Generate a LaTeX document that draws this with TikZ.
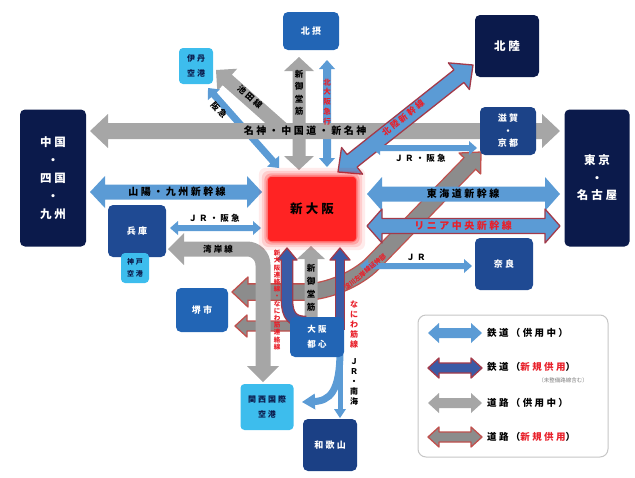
\documentclass[tikz,border=0pt]{standalone}
\usepackage{fontspec}
\setmainfont{Noto Sans CJK JP}
\newfontfamily\wj{Noto Sans CJK JP}[LetterSpace=25]
\usetikzlibrary{calc,backgrounds}
\definecolor{navy}{HTML}{0B1A4B}
\definecolor{midblue}{HTML}{1F4A93}
\definecolor{brblue}{HTML}{2265B5}
\definecolor{cyanbox}{HTML}{3DBDED}
\definecolor{railc}{HTML}{5B9BD5}
\definecolor{newrail}{HTML}{3A5BA6}
\definecolor{newedge}{HTML}{A33A4A}
\definecolor{roadc}{HTML}{A6A6A6}
\definecolor{newroad}{HTML}{8C8C8C}
\definecolor{roadedge}{HTML}{C0504D}
\definecolor{txtred}{HTML}{E8202A}
\definecolor{shinred}{HTML}{FF2323}
% double-headed block arrow: style, A, B, shaft half width, head half width, head length
\newcommand\DArrow[6]{%
 \path[#1] (#2) -- ($(#2)!#6!(#3)!#5!90:(#3)$) -- ($(#2)!#6!(#3)!#4!90:(#3)$)
 -- ($(#3)!#6!(#2)!#4!-90:(#2)$) -- ($(#3)!#6!(#2)!#5!-90:(#2)$) -- (#3)
 -- ($(#3)!#6!(#2)!#5!90:(#2)$) -- ($(#3)!#6!(#2)!#4!90:(#2)$)
 -- ($(#2)!#6!(#3)!#4!-90:(#3)$) -- ($(#2)!#6!(#3)!#5!-90:(#3)$) -- cycle;}
% single-headed block arrow: style, tail, tip, shaft half width, head half width, head length
\newcommand\SArrow[6]{%
 \path[#1] ($(#2)!#4!90:(#3)$) -- ($(#3)!#6!(#2)!#4!-90:(#2)$) -- ($(#3)!#6!(#2)!#5!-90:(#2)$)
 -- (#3) -- ($(#3)!#6!(#2)!#5!90:(#2)$) -- ($(#3)!#6!(#2)!#4!90:(#2)$)
 -- ($(#2)!#4!-90:(#3)$) -- cycle;}
% head only: style, tip, point behind, head half width, head length
\newcommand\HeadTip[5]{%
 \path[#1] (#2) -- ($(#2)!#5!(#3)!#4!90:(#3)$) -- ($(#2)!#5!(#3)!#4!-90:(#3)$) -- cycle;}
\tikzset{
 place/.style={rounded corners=5pt, text=white, align=center, inner sep=0pt,
   font=\wj\bfseries\fontsize{9}{12.5}\selectfont},
 bigplace/.style={place, fill=navy, font=\wj\bfseries\fontsize{11.5}{18}\selectfont},
 airport/.style={place, fill=cyanbox, text=navy, rounded corners=4pt,
   font=\wj\bfseries\fontsize{8}{15}\selectfont},
 roadA/.style={fill=roadc},
 railA/.style={fill=railc},
 newrailA/.style={fill=railc, draw=newedge, line width=1.3pt, line join=round},
 newrailB/.style={fill=newrail, draw=newedge, line width=1.3pt, line join=round},
 newroadA/.style={fill=newroad, draw=roadedge, line width=1.3pt, line join=round},
 lbl/.style={font=\wj\bfseries\fontsize{10}{12}\selectfont, text=black, inner sep=0pt},
 slbl/.style={font=\wj\bfseries\fontsize{8.5}{10}\selectfont, text=black, inner sep=0pt},
 vlbl/.style={font=\bfseries\fontsize{8}{10}\selectfont, align=center, inner sep=0pt},
 legtxt/.style={font=\wj\bfseries\fontsize{9.5}{11}\selectfont, anchor=west, inner sep=0pt},
}
\begin{document}
\begin{tikzpicture}[x=1pt,y=-1pt]
\useasboundingbox (0,0) rectangle (635,477);
% ---------- places ----------
\node[bigplace, minimum width=64pt, minimum height=62pt] (hokuriku) at (507,46) {北陸};
\node[bigplace, minimum width=66pt, minimum height=137pt] (chugoku) at (53,178) {中国\\・\\四国\\・\\九州};
\node[bigplace, minimum width=65pt, minimum height=137pt, font=\wj\bfseries\fontsize{11.5}{17.5}\selectfont] (tokyo) at (597,178) {東京\\・\\名古屋};
\node[place, fill=brblue, minimum width=56pt, minimum height=38pt] (hokusetsu) at (311,31) {北摂};
\node[airport, minimum width=34pt, minimum height=36pt] (itami) at (196,66) {伊丹\\空港};
\node[place, fill=midblue!85!navy, minimum width=56pt, minimum height=48pt] (shiga) at (508,131) {滋賀\\・\\京都};
\node[place, fill=midblue, minimum width=58pt, minimum height=52pt] (hyogo) at (137,231) {兵庫};
\node[airport, minimum width=28pt, minimum height=30pt, font=\wj\bfseries\fontsize{7}{12}\selectfont] (kobe) at (135,268) {神戸\\空港};
\node[place, fill=midblue, minimum width=58pt, minimum height=52pt] (nara) at (504,264) {奈良};
\node[place, fill=brblue, minimum width=52pt, minimum height=44pt] (sakai) at (202,310) {堺市};
\node[place, fill=brblue, minimum width=54pt, minimum height=40pt, font=\wj\bfseries\fontsize{8.5}{15}\selectfont] (toshin) at (317,337) {大阪\\都心};
\node[airport, minimum width=53pt, minimum height=46pt] (kix) at (267,407) {関西国際\\空港};
\node[place, fill=midblue!80!navy, minimum width=54pt, minimum height=52pt] (wakayama) at (330,445) {和歌山};
\node[rounded corners=3pt, fill=shinred, minimum width=88pt, minimum height=64pt, inner sep=0pt,
  font=\wj\bfseries\fontsize{12.5}{14}\selectfont, text=black] (shin) at (312,209) {新大阪};
% ---------- connector end points ----------
\coordinate (mA) at (90,131);   \coordinate (mB) at (560,131);
\coordinate (sA) at (90,192);   \coordinate (sB) at (262,192);
\coordinate (jlA) at (170,228); \coordinate (jlB) at (261,228);
\coordinate (wW) at (168,249);  \coordinate (wK) at (263,249); \coordinate (wS) at (263,382);
\coordinate (tA) at (367,194);  \coordinate (tB) at (560,194);
\coordinate (lA) at (367,226);  \coordinate (lB) at (560,226);
\coordinate (nA) at (360,266);  \coordinate (nB) at (472,266);
\coordinate (krA) at (372,148); \coordinate (krB) at (477,148);
\coordinate (hA) at (338,172);  \coordinate (hB) at (473,65);
\coordinate (gA) at (299,57);   \coordinate (gB) at (299,170);
\coordinate (bA) at (327,60);   \coordinate (bB) at (327,167);
\coordinate (aA) at (208,88);   \coordinate (aB) at (279,168);
\coordinate (iT) at (286,132);  \coordinate (iH) at (216,70);
\coordinate (gsH) at (311,246); \coordinate (gsT) at (311,330);
\coordinate (rlH) at (287,248); \coordinate (rlM) at (287,300); \coordinate (rlE) at (306,322);
\coordinate (rrH) at (340,248); \coordinate (rrM) at (340,330);
\coordinate (wkH) at (340,418); \coordinate (wkT) at (340,345);
\coordinate (kxH) at (302,402); \coordinate (kxD) at (330,401); \coordinate (kxS) at (340,350);
\coordinate (yW) at (232,292);  \coordinate (yK) at (345,292); \coordinate (yE) at (481,152);
\coordinate (y2H) at (235,326); \coordinate (y2T) at (292,326);
% ---------- connectors (behind the places) ----------
\begin{scope}[on background layer]
 % new road: Yodogawa left bank extension
 \draw[roadedge, line width=17.6pt, rounded corners=40pt] ($(yW)!16pt!(yK)$) -- (yK) -- ($(yE)!16pt!(yK)$);
 \HeadTip{newroadA}{yW}{yK}{15pt}{16pt}
 \HeadTip{newroadA}{yE}{yK}{15pt}{16pt}
 \draw[newroad, line width=15pt, rounded corners=40pt] ($(yW)!12pt!(yK)$) -- (yK) -- ($(yE)!12pt!(yK)$);
 % small new road to the west
 \SArrow{newroadA}{y2T}{y2H}{5pt}{11pt}{12pt}
 % Wangan line
 \draw[roadc, line width=15pt, rounded corners=16pt] ($(wW)!14pt!(wK)$) -- (wK) -- ($(wS)!14pt!(wK)$);
 \HeadTip{roadA}{wW}{wK}{16pt}{16pt}
 \HeadTip{roadA}{wS}{wK}{16pt}{16pt}
 % Shin-Midosuji south
 \SArrow{roadA}{gsT}{gsH}{6.5pt}{14pt}{13pt}
 % new rail (left, south)
 \draw[newedge, line width=12.6pt] ($(rlH)!12pt!(rlM)$) -- (rlM) .. controls (287,316) and (293,322) .. (rlE);
 \HeadTip{newrailB}{rlH}{rlM}{10pt}{12pt}
 \draw[newrail, line width=10pt] ($(rlH)!8pt!(rlM)$) -- (rlM) .. controls (287,316) and (293,322) .. (rlE);
 % new rail (right, south) - Naniwasuji line
 \draw[newedge, line width=10.6pt] ($(rrH)!12pt!(rrM)$) -- (rrM);
 \HeadTip{newrailB}{rrH}{rrM}{10pt}{12pt}
 \draw[newrail, line width=8pt] ($(rrH)!8pt!(rrM)$) -- (rrM);
 % JR / Nankai to Wakayama and KIX
 \draw[railc, line width=5pt] (wkT) -- ($(wkH)!8pt!(wkT)$);
 \HeadTip{railA}{wkH}{wkT}{6pt}{9pt}
 \draw[railc, line width=7pt] (kxS) .. controls (340,392) and (330,401) .. ($(kxH)!11pt!(kxD)$);
 \HeadTip{railA}{kxH}{kxD}{8pt}{13pt}
 % north side
 \SArrow{roadA}{iT}{iH}{7pt}{15pt}{15pt}
 \DArrow{railA}{aA}{aB}{3.5pt}{8pt}{9pt}
 \DArrow{roadA}{gA}{gB}{6.5pt}{15pt}{14pt}
 \DArrow{railA}{bA}{bB}{4pt}{8pt}{9pt}
 \DArrow{roadA}{mA}{mB}{8pt}{17pt}{18pt}
 \DArrow{newrailA}{hA}{hB}{8pt}{17pt}{18pt}
 \DArrow{railA}{krA}{krB}{3pt}{7pt}{8pt}
 % west side
 \DArrow{railA}{sA}{sB}{7.5pt}{16pt}{15pt}
 \DArrow{railA}{jlA}{jlB}{3pt}{7pt}{8pt}
 % east side
 \DArrow{railA}{tA}{tB}{7.5pt}{17pt}{15pt}
 \DArrow{newrailA}{lA}{lB}{7.5pt}{17pt}{15pt}
 \DArrow{railA}{nA}{nB}{3pt}{7pt}{8pt}
 % glow of Shin-Osaka
 \foreach \g/\o in {9/0.08,6/0.12,3.5/0.2,1.5/0.3}
   \fill[red, opacity=\o, rounded corners=7pt] ($(shin.north west)+(-\g,-\g)$) rectangle ($(shin.south east)+(\g,\g)$);
\end{scope}
% ---------- connector labels ----------
\node[lbl] (lMeishin) at (305,131) {名神・中国道・新名神};
\node[lbl] (lSanyo) at (177,192) {山陽・九州新幹線};
\node[slbl] (lJRl) at (214,218) {ＪＲ・阪急};
\node[slbl] (lWangan) at (218,249) {湾岸線};
\node[lbl] (lTokaido) at (463,194) {東海道新幹線};
\node[lbl, text=txtred] (lLinear) at (463,226) {リニア中央新幹線};
\node[slbl] (lJRn) at (416,257) {ＪＲ};
\node[slbl] (lJRk) at (420,158) {ＪＲ・阪急};
\node[slbl, text=txtred, rotate=38.6] (lHokuriku) at (403,118) {北陸新幹線};
\node[vlbl, font=\bfseries\fontsize{8.5}{12.5}\selectfont] (lMidoN) at (299,93) {新\\御\\堂\\筋};
\node[vlbl, text=txtred, font=\bfseries\fontsize{7.5}{9.8}\selectfont] (lKita) at (327,102) {北\\大\\阪\\急\\行};
\node[slbl, rotate=-48.4] (lHankyu) at (219,110) {阪急};
\node[slbl, rotate=-41.5] (lIkeda) at (250,97) {池田線};
\node[vlbl, font=\bfseries\fontsize{8.5}{13}\selectfont] (lMidoS) at (311,288) {新\\御\\堂\\筋};
\node[vlbl, text=txtred, font=\bfseries\fontsize{6.5}{7.2}\selectfont] (lNaniwaR) at (277,300) {新\\大\\阪\\連\\絡\\線\\・\\な\\に\\わ\\筋\\連\\絡\\線};
\node[vlbl, text=txtred] (lNaniwa) at (354,325) {な\\に\\わ\\筋\\線};
\node[vlbl] (lJRnankai) at (354,382) {Ｊ\\Ｒ\\・\\南\\海};
\node[text=txtred, font=\bfseries\fontsize{6.5}{7}\selectfont, inner sep=0pt, rotate=40] (lYodo) at (365,272) {淀川左岸線延伸部};
% ---------- legend ----------
\node[draw=gray!45, line width=1pt, fill=white, rounded corners=8pt, minimum width=190pt, minimum height=142pt, inner sep=0pt] (legend) at (513,386) {};
\coordinate (lg1A) at (428,333); \coordinate (lg1B) at (482,333);
\coordinate (lg2A) at (428,368); \coordinate (lg2B) at (482,368);
\coordinate (lg3A) at (428,403); \coordinate (lg3B) at (482,403);
\coordinate (lg4A) at (428,437); \coordinate (lg4B) at (482,437);
\DArrow{railA}{lg1A}{lg1B}{5pt}{10pt}{11pt}
\DArrow{newrailB}{lg2A}{lg2B}{5pt}{10pt}{11pt}
\DArrow{roadA}{lg3A}{lg3B}{5pt}{10pt}{11pt}
\DArrow{newroadA}{lg4A}{lg4B}{5pt}{10pt}{11pt}
\node[legtxt] (lt1) at (487,333) {鉄道（供用中）};
\node[legtxt] (lt2) at (487,367) {鉄道（\textcolor{txtred}{新規供用}）};
\node[font=\fontsize{5.5}{6}\selectfont, text=gray, inner sep=0pt] (lt2s) at (563,380) {（未整備路線含む）};
\node[legtxt] (lt3) at (487,403) {道路（供用中）};
\node[legtxt] (lt4) at (487,437) {道路（\textcolor{txtred}{新規供用}）};
\end{tikzpicture}
\end{document}
